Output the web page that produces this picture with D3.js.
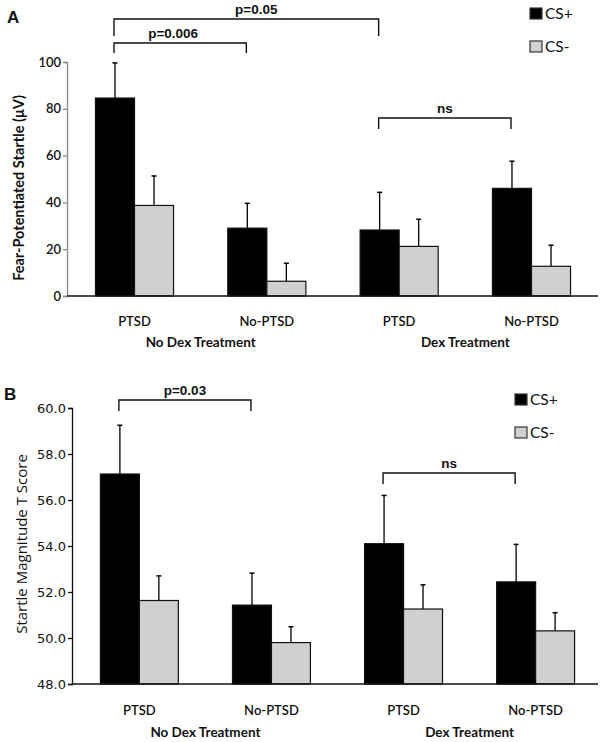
<!DOCTYPE html>
<html><head><meta charset="utf-8">
<script src="https://cdn.jsdelivr.net/npm/d3@7/dist/d3.min.js"></script>
<style>body{margin:0;background:#fff}svg{display:block}text{font-family:Lato,"Open Sans",sans-serif;fill:#111}</style>
</head><body><svg id="c" width="603" height="742"></svg>
<script>
const groups = ["No Dex Treatment", "Dex Treatment"];
const categories = ["PTSD", "No-PTSD", "PTSD ", "No-PTSD "];
const series = ["CS+", "CS-"];
// Panel A: fear-potentiated startle (µV)
const aCSplus = [84.6, 29.0, 28.2, 46.0];
const aCSminus = [38.7, 6.3, 21.2, 12.7];
const aCSplusErr = [15.0, 10.6, 16.1, 11.6];
const aCSminusErr = [12.6, 7.7, 11.6, 9.0];
const aTicks = [0, 20, 40, 60, 80, 100];
// Panel B: startle magnitude T score
const bCSplus = [57.13, 51.43, 54.1, 52.44];
const bCSminus = [51.63, 49.8, 51.26, 50.31];
const bCSplusErr = [2.12, 1.39, 2.1, 1.63];
const bCSminusErr = [1.07, 0.69, 1.05, 0.79];
const bTicks = [48, 50, 52, 54, 56, 58, 60];
const colors = ["#000000", "#d0d0d0"];

const svg = d3.select("#c");

function panel(o) {
  const g = svg.append("g");
  const x = d3.scaleBand().domain(categories).range(o.xr).paddingInner(0.41).paddingOuter(0.2);
  const xs = d3.scaleBand().domain(series).range([0, x.bandwidth()]);
  const y = d3.scaleLinear().domain(o.dom).range(o.yr);
  // y axis
  const ya = d3.axisLeft(y).tickValues(o.ticks).tickSize(4).tickFormat(o.fmt);
  const yg = g.append("g").attr("transform", `translate(${o.ax},0)`).call(ya);
  yg.selectAll("path,line").attr("stroke", o.axCol).attr("stroke-width", 1.3);
  yg.selectAll("text").attr("font-size", o.tickFs).attr("fill", "#111").attr("x", -6)
    .attr("font-weight", o.tickW).style("font-family", o.tickFont);
  // bars
  const data = [];
  categories.forEach((c, i) => {
    data.push({c, s: "CS+", v: o.plus[i], e: o.plusE[i]});
    data.push({c, s: "CS-", v: o.minus[i], e: o.minusE[i]});
  });
  const bx = d => x(d.c) + xs(d.s);
  // error bars (upward only)
  g.selectAll(".eb").data(data).enter().append("line")
    .attr("x1", d => bx(d) + xs.bandwidth() / 2).attr("x2", d => bx(d) + xs.bandwidth() / 2)
    .attr("y1", d => y(d.v)).attr("y2", d => y(d.v + d.e)).attr("stroke", "#000").attr("stroke-width", 1.3);
  g.selectAll(".cap").data(data).enter().append("line")
    .attr("x1", d => bx(d) + xs.bandwidth() / 2 - 2.5).attr("x2", d => bx(d) + xs.bandwidth() / 2 + 2.5)
    .attr("y1", d => y(d.v + d.e)).attr("y2", d => y(d.v + d.e)).attr("stroke", "#000").attr("stroke-width", 1.5);
  g.selectAll(".bar").data(data).enter().append("rect")
    .attr("x", bx).attr("width", xs.bandwidth())
    .attr("y", d => y(d.v)).attr("height", d => y(o.dom[0]) - y(d.v))
    .attr("fill", d => d.s === "CS+" ? colors[0] : colors[1])
    .attr("stroke", "#111").attr("stroke-width", 1.2);
  // x axis line
  g.append("line").attr("x1", o.ax).attr("x2", 598).attr("y1", y(o.dom[0])).attr("y2", y(o.dom[0]))
    .attr("stroke", "#111").attr("stroke-width", 1.5);
  // category labels
  categories.forEach(c => {
    g.append("text").attr("x", x(c) + x.bandwidth() / 2).attr("y", o.catY).attr("text-anchor", "middle")
      .attr("font-size", 13).attr("font-weight", 600).text(c.trim());
  });
  groups.forEach((gr, i) => {
    const cx = (x(categories[2 * i]) + x(categories[2 * i + 1]) + x.bandwidth()) / 2;
    g.append("text").attr("x", cx).attr("y", o.grpY).attr("text-anchor", "middle")
      .attr("font-size", 13.5).attr("font-weight", 700).text(gr);
  });
  // y title
  g.append("text").attr("transform", `translate(${o.titleX},${o.titleY}) rotate(-90)`)
    .attr("text-anchor", "middle").attr("font-size", o.titleFs).attr("font-weight", o.titleW)
    .style("font-family", o.titleFont).text(o.title);
  // panel letter
  g.append("text").attr("x", o.letter[0]).attr("y", o.letter[1]).attr("font-size", 17)
    .attr("font-weight", 700).style("font-family", "Liberation Sans, Arial, sans-serif").text(o.letterT);
  // brackets
  o.brackets.forEach(b => {
    const x1 = x(categories[b.a]) + xs("CS+") + xs.bandwidth() / 2 - 1;
    const x2 = x(categories[b.b]) + xs("CS+") + xs.bandwidth() / 2 - 1;
    g.append("path").attr("d", `M${x1},${b.y + b.h}V${b.y}H${x2}V${b.y + b.h}`)
      .attr("fill", "none").attr("stroke", "#111").attr("stroke-width", 1.4);
    g.append("text").attr("x", (x1 + x2) / 2 + (b.dx || 0)).attr("y", b.y - 5).attr("text-anchor", "middle")
      .attr("font-size", 13.5).attr("font-weight", 700).style("font-family", "Liberation Sans, Arial, sans-serif").text(b.t);
  });
  // legend
  series.forEach((s, i) => {
    const ly = o.leg[1] + i * 33;
    g.append("rect").attr("x", o.leg[0]).attr("y", ly).attr("width", 12).attr("height", 11)
      .attr("fill", colors[i]).attr("stroke", "#333").attr("stroke-width", 1.2);
    g.append("text").attr("x", o.leg[0] + 15).attr("y", ly + 11).attr("font-size", 15.5).text(s);
  });
}

panel({
  xr: [69, 597], dom: [0, 100], yr: [296, 62], ax: 67, ticks: aTicks, fmt: d3.format("d"),
  axCol: "#888", tickFs: 13, tickW: 600, tickFont: "Lato, sans-serif",
  plus: aCSplus, minus: aCSminus, plusE: aCSplusErr, minusE: aCSminusErr,
  catY: 326, grpY: 347, titleX: 24, titleY: 188, titleFs: 14.5, titleW: 700, titleFont: "Lato, sans-serif",
  title: "Fear-Potentiated Startle  (\u03bcV)", letter: [7, 23], letterT: "A",
  brackets: [
    {a: 0, b: 2, y: 19, h: 17, t: "p=0.05", dx: 10},
    {a: 0, b: 1, y: 43, h: 10, t: "p=0.006", dx: -7},
    {a: 2, b: 3, y: 118, h: 11, t: "ns"}
  ],
  leg: [530, 8]
});

panel({
  xr: [74, 601], dom: [48, 60], yr: [684, 408], ax: 72, ticks: bTicks, fmt: d3.format(".1f"),
  axCol: "#111", tickFs: 13, tickW: 400, tickFont: "DejaVu Sans, sans-serif",
  plus: bCSplus, minus: bCSminus, plusE: bCSplusErr, minusE: bCSminusErr,
  catY: 715, grpY: 737, titleX: 27, titleY: 544, titleFs: 15, titleW: 400, titleFont: "Open Sans, sans-serif",
  title: "Startle Magnitude T Score", letter: [4, 400], letterT: "B",
  brackets: [
    {a: 0, b: 1, y: 400, h: 11, t: "p=0.03"},
    {a: 2, b: 3, y: 473, h: 11, t: "ns"}
  ],
  leg: [515, 394]
});
</script></body></html>
